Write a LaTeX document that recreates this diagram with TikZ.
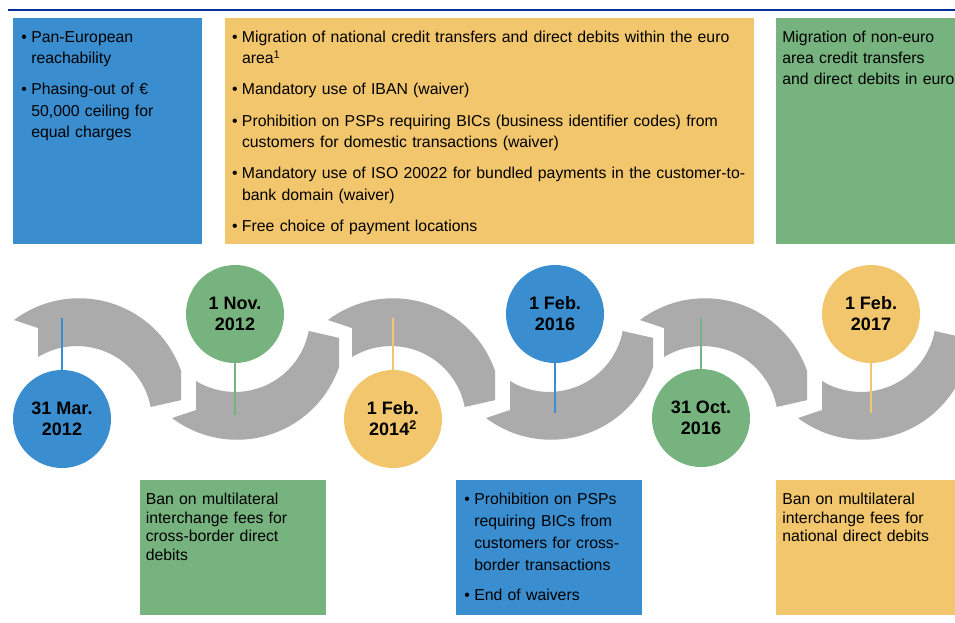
\documentclass[tikz,border=0pt]{standalone}
\usepackage{fontspec}
\setmainfont{Liberation Sans}
\usetikzlibrary{positioning}

\definecolor{ecbline}{HTML}{003299}
\definecolor{sepablue}{HTML}{3A8ED0}
\definecolor{sepayellow}{HTML}{F2C66D}
\definecolor{sepagreen}{HTML}{76B37E}
\definecolor{sepagray}{HTML}{ABABAB}

\newcommand{\bitem}{\hangindent=10pt\hangafter=1\noindent\makebox[10pt][l]{\textbullet}}
\newcommand{\capline}{\rule{0pt}{12pt}}

\begin{document}
\begin{tikzpicture}[x=1pt,y=-1pt,semithick]
      \tikzstyle{box}=[rectangle,draw=none,anchor=north west,inner sep=0]
      \tikzstyle{txt}=[anchor=north west,inner sep=0,
                       font=\fontsize{15.8}{21.3}\selectfont\setlength{\parskip}{10pt}]
      \tikzstyle{date}=[circle,inner sep=0,minimum size=98,align=center,
                        font=\bfseries\fontsize{18}{21}\selectfont]
      \tikzstyle{stem}=[line width=1.5]
      \tikzstyle{wave}=[fill=sepagray]

      \useasboundingbox (0,0) rectangle (955,622);

      \coordinate (ruleL) at (8,10);
      \coordinate (ruleR) at (955,10);
      \draw[ecbline,line width=2] (ruleL) -- (ruleR);

      \node[box,fill=sepablue,minimum width=189,minimum height=226]   (reach)   at (13,18)   {};
      \node[box,fill=sepayellow,minimum width=529,minimum height=226] (migr)    at (225,18)  {};
      \node[box,fill=sepagreen,minimum width=179,minimum height=226]  (noneuro) at (776,18)  {};
      \node[box,fill=sepagreen,minimum width=186,minimum height=135]  (mifcb)   at (140,480) {};
      \node[box,fill=sepablue,minimum width=186,minimum height=135]   (bicend)  at (456,480) {};
      \node[box,fill=sepayellow,minimum width=179,minimum height=135] (mifnat)  at (776,480) {};

      \node[txt,text width=185] (reachtxt) [below right=12pt and 8pt of reach.north west]
        {\bitem\capline Pan-European\newline reachability
         \par\bitem Phasing-out of €\newline 50,000 ceiling for\newline equal charges\par};
      \node[txt,text width=530] (migrtxt) [below right=12pt and 6.7pt of migr.north west]
        {\bitem\capline Migration of national credit transfers and direct debits within the euro\newline area\textsuperscript{1}
         \par\bitem Mandatory use of IBAN (waiver)
         \par\bitem Prohibition on PSPs requiring BICs (business identifier codes) from\newline customers for domestic transactions (waiver)
         \par\bitem Mandatory use of ISO 20022 for bundled payments in the customer-to-\newline bank domain (waiver)
         \par\bitem Free choice of payment locations\par};
      \node[txt,text width=190] (noneurotxt) [below right=12pt and 6pt of noneuro.north west]
        {\capline Migration of non-euro\newline area credit transfers\newline and direct debits in euro};
      \node[txt,text width=190,font=\fontsize{15.8}{18.7}\selectfont] (mifcbtxt) [below right=12pt and 5.5pt of mifcb.north west]
        {\capline Ban on multilateral\newline interchange fees for\newline cross-border direct\newline debits};
      \node[txt,text width=190,font=\fontsize{15.8}{22}\selectfont\setlength{\parskip}{8pt}] (bicendtxt) [below right=12pt and 8pt of bicend.north west]
        {\bitem\capline Prohibition on PSPs\newline requiring BICs from\newline customers for cross-\newline border transactions
         \par\bitem End of waivers\par};
      \node[txt,text width=190,font=\fontsize{15.8}{18.7}\selectfont] (mifnattxt) [below right=12pt and 6pt of mifnat.north west]
        {\capline Ban on multilateral\newline interchange fees for\newline national direct debits};

      \foreach \x in {14,328,640}
        \fill[wave] (\x,320) arc[start angle=-127,end angle=-19,radius=108] -- ++(0,29)
          -- (\x+136.7,407) arc[start angle=-10.8,end angle=-121.3,radius=75] -- (\x+24,328) -- cycle;
      \begin{scope}[shift={(0,738)},yscale=-1]
        \foreach \x in {172,486,798}
          \fill[wave] (\x,320) arc[start angle=-127,end angle=-19,radius=108] -- ++(0,29)
            -- (\x+136.7,407) arc[start angle=-10.8,end angle=-121.3,radius=75] -- (\x+24,328) -- cycle;
      \end{scope}

      \node[date,fill=sepablue]   (mar12) at (62,419)  {31 Mar.\\2012};
      \node[date,fill=sepagreen]  (nov12) at (235,314) {1 Nov.\\2012};
      \node[date,fill=sepayellow] (feb14) at (393,419) {1 Feb.\\2014\textsuperscript{2}};
      \node[date,fill=sepablue]   (feb16) at (555,314) {1 Feb.\\2016};
      \node[date,fill=sepagreen]  (oct16) at (701,418) {31 Oct.\\2016};
      \node[date,fill=sepayellow] (feb17) at (871,314) {1 Feb.\\2017};

      \coordinate (mar12tip) at (62,318);
      \coordinate (nov12tip) at (235,415);
      \coordinate (feb14tip) at (393,318);
      \coordinate (feb16tip) at (555,413);
      \coordinate (oct16tip) at (701,318);
      \coordinate (feb17tip) at (871,413);

      \path[stem] (mar12) edge[sepablue] (mar12tip)
            (nov12) edge[sepagreen] (nov12tip)
            (feb14) edge[sepayellow] (feb14tip)
            (feb16) edge[sepablue] (feb16tip)
            (oct16) edge[sepagreen] (oct16tip)
            (feb17) edge[sepayellow] (feb17tip);
\end{tikzpicture}
\end{document}
